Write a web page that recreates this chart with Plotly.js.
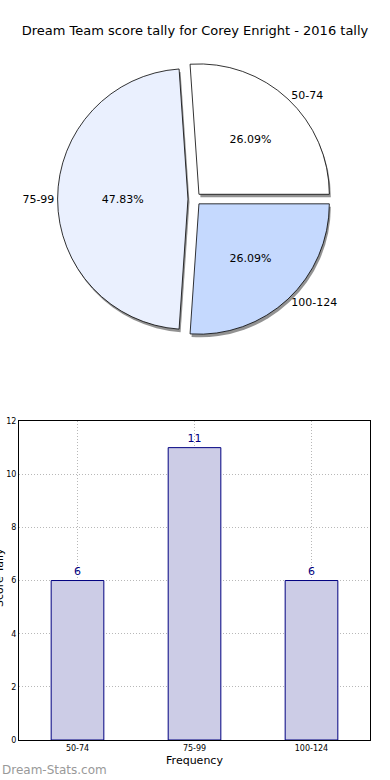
<!DOCTYPE html>
<html>
<head>
<meta charset="utf-8">
<script src="https://cdn.plot.ly/plotly-3.0.1.min.js"></script>
<style>html,body{margin:0;padding:0;background:#fff;}#chart{width:390px;height:780px;}</style>
</head>
<body>
<div id="chart"></div>
<script>
const categories = ["50-74", "75-99", "100-124"];
const counts = [6, 11, 6];
const sliceColors = ["#ffffff", "#eaf0fe", "#c5d9fe"];
const chartTitle = "Dream Team score tally for Corey Enright - 2016 tally";
const yTicks = [0, 2, 4, 6, 8, 10, 12];

const F = "DejaVu Sans, sans-serif";
const total = counts.reduce((a, b) => a + b, 0);
// first slice starts at 3 o'clock, going counterclockwise (matplotlib style)
const rot = 90 - 360 * counts[0] / total;
const pieDomain = {x: [0, 1], y: [0.546, 0.916]};
const shift = {x: 3/351, y: 3/740};

const common = {type: "pie", labels: categories, values: counts, sort: false,
  direction: "counterclockwise", rotation: rot, pull: 0.05, showlegend: false};

const shadow = Object.assign({}, common, {
  marker: {colors: categories.map(() => "rgba(110,110,110,0.75)"), line: {width: 0}},
  textinfo: "none", hoverinfo: "skip",
  domain: {x: [pieDomain.x[0] + shift.x, pieDomain.x[1] + shift.x], y: [pieDomain.y[0] - shift.y, pieDomain.y[1] - shift.y]}
});
const pieMain = Object.assign({}, common, {
  marker: {colors: sliceColors, line: {color: "#000", width: 0.8}},
  texttemplate: "%{percent:.2%}", textposition: "inside", insidetextorientation: "horizontal",
  textfont: {family: F, size: 11, color: "#000"}, domain: pieDomain
});
const pieLabels = Object.assign({}, common, {
  marker: {colors: categories.map(() => "rgba(0,0,0,0)"), line: {width: 0}},
  textinfo: "label", textposition: "outside",
  textfont: {family: F, size: 11, color: "#000"}, hoverinfo: "skip", domain: pieDomain
});
const bars = {
  type: "bar", x: categories, y: counts, width: 0.45,
  marker: {color: "rgb(204,204,230)", line: {color: "#000080", width: 1}},
  text: counts.map(String), textposition: "outside", cliponaxis: false,
  textfont: {family: F, size: 11, color: "#000080"},
  showlegend: false, xaxis: "x", yaxis: "y"
};

const layout = {
  width: 390, height: 780,
  margin: {l: 19, r: 20, t: 0, b: 40},
  paper_bgcolor: "#fff", plot_bgcolor: "#fff",
  font: {family: F, color: "#000"},
  title: {text: chartTitle, font: {family: F, size: 13, color: "#000"}, x: 0.5, xanchor: "center", y: 1 - 30/780, yanchor: "middle"},
  xaxis: {
    type: "category", domain: [0, 1], range: [-0.5, 2.5],
    tickfont: {family: F, size: 8}, ticks: "", showline: true, linecolor: "#000", mirror: true,
    showgrid: true, gridcolor: "#b8b8b8", griddash: "1px,2px",
    title: {text: "Frequency", font: {family: F, size: 11}, standoff: 4}, fixedrange: true
  },
  yaxis: {
    domain: [0, 0.431], range: [0, 12], tickvals: yTicks,
    tickfont: {family: F, size: 8}, ticks: "", showline: true, linecolor: "#000", mirror: true,
    showgrid: true, gridcolor: "#b8b8b8", griddash: "1px,2px", zeroline: false, fixedrange: true
  },
  annotations: [
    {text: "Score Tally", textangle: -90, xref: "paper", yref: "paper", x: 0, y: (740-578)/740,
     xanchor: "center", yanchor: "middle", xshift: -20, showarrow: false, font: {family: F, size: 11, color: "#000"}},
    {text: "Dream-Stats.com", xref: "paper", yref: "paper", x: -19/351, y: -30/740,
     xanchor: "left", yanchor: "middle", showarrow: false, font: {family: F, size: 12, color: "#999999"}}
  ]
};

Plotly.newPlot("chart", [shadow, pieMain, pieLabels, bars], layout, {staticPlot: true, displayModeBar: false});
</script>
</body>
</html>
